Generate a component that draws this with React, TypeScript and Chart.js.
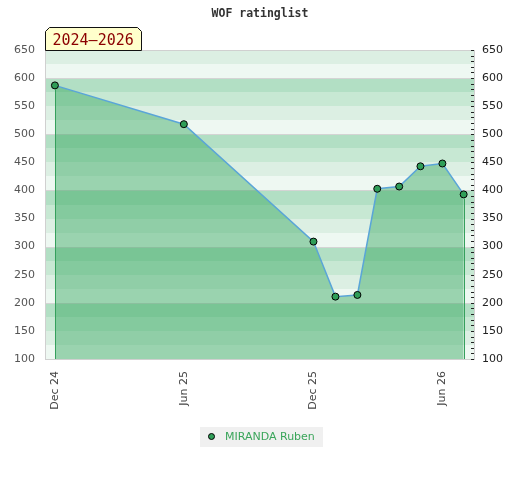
import React, { useEffect, useRef } from "react";
import { Chart, registerables } from "chart.js";

Chart.register(...registerables);

const chartTitle = "WOF ratinglist";
const periodLabel = "2024–2026";
const seriesName = "MIRANDA Ruben";

const ratingDates = [
  "2024-12-01",
  "2025-06-01",
  "2025-12-01",
  "2026-01-01",
  "2026-02-01",
  "2026-03-01",
  "2026-04-01",
  "2026-05-01",
  "2026-06-01",
  "2026-07-01",
];
const ratings = [587, 518, 309, 211, 214, 403, 407, 443, 448, 393];

const tickDates = ["2024-12-01", "2025-06-01", "2025-12-01", "2026-06-01"];
const tickLabels = ["Dec 24", "Jun 25", "Dec 25", "Jun 26"];

const xRange = ["2024-11-17", "2026-07-17"];
const yMin = 100;
const yMax = 650;
const yStep = 50;

const bandColors = ["#eef8f2", "#dcefe3", "#c7e8d3", "#b2dfc4"];

const toDay = (s: string) => {
  const [y, m, d] = s.split("-").map(Number);
  return Date.UTC(y, m - 1, d) / 86400000;
};

const decor = {
  id: "decor",
  beforeDatasetsDraw(chart: any) {
    const { ctx, chartArea: a, scales } = chart;
    const y = scales.y;
    ctx.save();
    for (let v = yMin; v < yMax; v += 25) {
      const top = Math.round(y.getPixelForValue(v + 25));
      const bot = Math.round(y.getPixelForValue(v));
      const idx = Math.floor((((v % 100) + 100) % 100) / 25);
      ctx.fillStyle = bandColors[idx];
      ctx.fillRect(a.left, top, a.right - a.left, bot - top);
    }
    ctx.strokeStyle = "#d4d4d4";
    ctx.lineWidth = 1;
    for (let v = Math.ceil((yMin + 1) / 100) * 100; v < yMax; v += 100) {
      const p = Math.round(y.getPixelForValue(v)) + 0.5;
      ctx.beginPath();
      ctx.moveTo(a.left, p);
      ctx.lineTo(a.right, p);
      ctx.stroke();
    }
    ctx.strokeStyle = "#d0d0d0";
    ctx.strokeRect(
      Math.round(a.left) + 0.5,
      Math.round(a.top) + 0.5,
      Math.round(a.right - a.left) - 1,
      Math.round(a.bottom - a.top)
    );
    ctx.restore();
  },
  afterDatasetsDraw(chart: any) {
    const { ctx, chartArea: a, scales } = chart;
    const meta = chart.getDatasetMeta(0);
    const pts = meta.data;
    ctx.save();
    // vertical edges of the filled area
    ctx.strokeStyle = "#35a05c";
    ctx.lineWidth = 1;
    [pts[0], pts[pts.length - 1]].forEach((p: any) => {
      const x = Math.round(p.x) + 0.5;
      ctx.beginPath();
      ctx.moveTo(x, p.y + 4);
      ctx.lineTo(x, a.bottom);
      ctx.stroke();
    });
    // minor ticks on the right axis, inside the plot
    const y2 = scales.y2;
    ctx.strokeStyle = "#222";
    for (let v = yMin; v <= yMax; v += 10) {
      const p = Math.round(y2.getPixelForValue(v)) + 0.5;
      ctx.beginPath();
      ctx.moveTo(a.right - 4, p);
      ctx.lineTo(a.right - 1, p);
      ctx.stroke();
    }
    // period badge
    const bl = Math.round(a.left) + 0.5;
    const bb = Math.round(a.top) + 0.5;
    ctx.font = "15px 'DejaVu Sans Mono'";
    const tw = ctx.measureText(periodLabel).width;
    const bw = Math.round(tw + 15);
    const bh = 23;
    ctx.beginPath();
    ctx.moveTo(bl, bb);
    ctx.lineTo(bl, bb - bh + 4);
    ctx.lineTo(bl + 4, bb - bh);
    ctx.lineTo(bl + bw - 4, bb - bh);
    ctx.lineTo(bl + bw, bb - bh + 4);
    ctx.lineTo(bl + bw, bb);
    ctx.closePath();
    ctx.fillStyle = "#ffffcc";
    ctx.fill();
    ctx.strokeStyle = "#111";
    ctx.stroke();
    ctx.fillStyle = "#8b0000";
    ctx.textBaseline = "alphabetic";
    ctx.textAlign = "left";
    ctx.fillText(periodLabel, bl + 7, bb - 5.5);
    // legend
    const ds = chart.data.datasets[0];
    ctx.font = "11px 'DejaVu Sans'";
    const lw = ctx.measureText(ds.label).width;
    const boxW = Math.round(lw + 33);
    const boxH = 20;
    const cx = chart.width / 2 + 1;
    const bx = Math.round(cx - boxW / 2);
    const by = 427;
    ctx.fillStyle = "#f0f0f0";
    ctx.fillRect(bx, by, boxW, boxH);
    ctx.beginPath();
    ctx.arc(bx + 11.5, by + 9.5, 3, 0, Math.PI * 2);
    ctx.fillStyle = ds.pointBackgroundColor;
    ctx.fill();
    ctx.strokeStyle = "#000";
    ctx.stroke();
    ctx.fillStyle = "#3aa55a";
    ctx.textBaseline = "middle";
    ctx.fillText(ds.label, bx + 25, by + 10);
    ctx.restore();
  },
};

export default function App() {
  const ref = useRef<HTMLCanvasElement>(null);
  useEffect(() => {
    document.body.style.margin = "0";
    Chart.defaults.font.family = "'DejaVu Sans'";
    const tickFont = { family: "'DejaVu Sans'", size: 11 };
    const chart = new Chart(ref.current as HTMLCanvasElement, {
      type: "line",
      data: {
        datasets: [
          {
            label: seriesName,
            data: ratingDates.map((d, i) => ({ x: toDay(d), y: ratings[i] })),
            borderColor: "#5aa5d8",
            borderWidth: 1.5,
            backgroundColor: "rgba(52,166,94,0.45)",
            fill: "start",
            tension: 0,
            pointRadius: 3.5,
            pointBackgroundColor: "#2f9e58",
            pointBorderColor: "#000",
            pointBorderWidth: 1,
          },
        ],
      },
      options: {
        responsive: false,
        animation: false,
        layout: { padding: 0 },
        plugins: {
          legend: { display: false },
          tooltip: { enabled: false },
          title: {
            display: true,
            text: chartTitle,
            color: "#333",
            font: { family: "'DejaVu Sans Mono'", size: 11.5, weight: "bold" },
            padding: { top: 7, bottom: 29.2 },
          },
        },
        scales: {
          x: {
            type: "linear",
            min: toDay(xRange[0]),
            max: toDay(xRange[1]),
            grid: { display: false, drawTicks: false },
            border: { display: false },
            afterBuildTicks: (s: any) => {
              s.ticks = tickDates.map((d) => ({ value: toDay(d) }));
            },
            afterFit: (s: any) => {
              s.height = 121;
            },
            ticks: {
              autoSkip: false,
              minRotation: 90,
              maxRotation: 90,
              padding: 12,
              color: "#444",
              font: tickFont,
              callback: (v: any) => {
                const i = tickDates.findIndex((d) => toDay(d) === v);
                return i >= 0 ? tickLabels[i] : "";
              },
            },
          },
          y: {
            position: "left",
            min: yMin,
            max: yMax,
            grid: { display: false, drawTicks: false },
            border: { display: false },
            afterFit: (s: any) => {
              s.width = 45;
            },
            ticks: { stepSize: yStep, padding: 10, color: "#555", font: tickFont },
          },
          y2: {
            position: "right",
            min: yMin,
            max: yMax,
            grid: { display: false, drawTicks: false },
            border: { display: false },
            afterFit: (s: any) => {
              s.width = 45;
            },
            ticks: { stepSize: yStep, padding: 7, color: "#222", font: tickFont },
          },
        },
      } as any,
      plugins: [decor],
    });
    return () => chart.destroy();
  }, []);
  return (
    <div style={{ width: 520, height: 480 }}>
      <canvas ref={ref} width={520} height={480} style={{ display: "block", width: 520, height: 480 }} />
    </div>
  );
}
